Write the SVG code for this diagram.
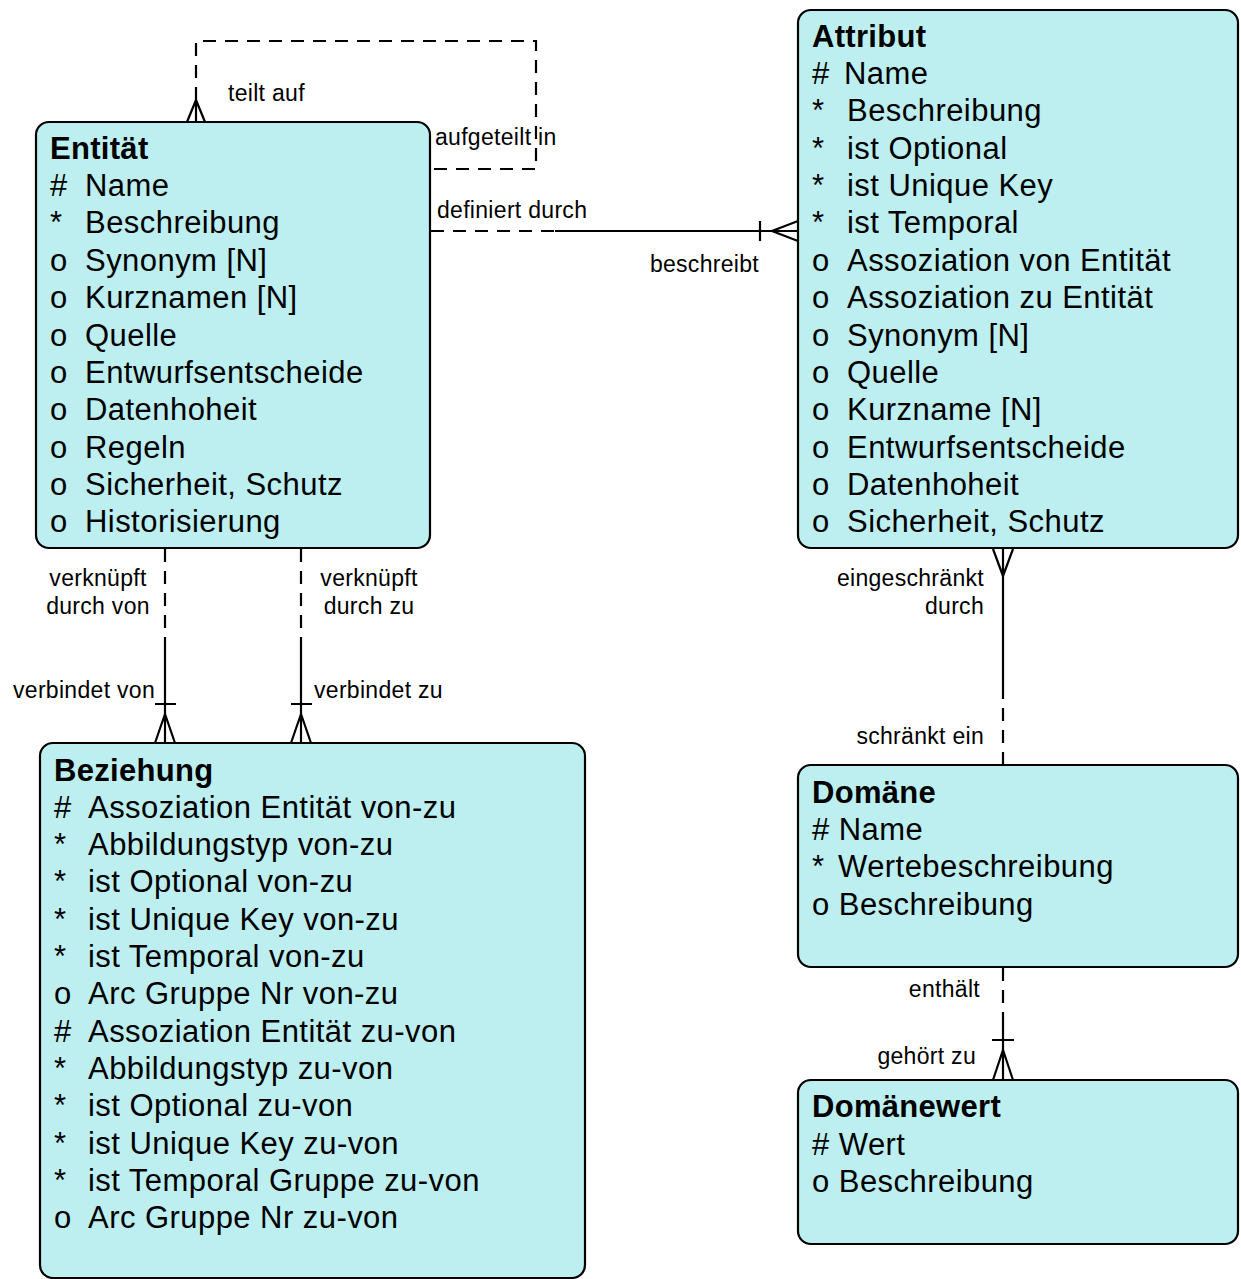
<svg xmlns="http://www.w3.org/2000/svg" width="1241" height="1279" viewBox="0 0 1241 1279">
<style>
.box{fill:#bdeff0;stroke:#000;stroke-width:2.2}
.t{font-family:"Liberation Sans",Arial,sans-serif;font-size:31px;fill:#000;letter-spacing:0.45px}
.h{font-weight:bold;letter-spacing:0.3px}
.l{font-family:"Liberation Sans",Arial,sans-serif;font-size:23px;fill:#000;letter-spacing:0.3px}
.r{text-anchor:end}
.m{text-anchor:middle}
.s{fill:none;stroke:#000;stroke-width:2.2}
.d{fill:none;stroke:#000;stroke-width:2.2;stroke-dasharray:13 9}
</style>
<rect width="1241" height="1279" fill="#fff"/>
<g id="connectors">
  <!-- self loop -->
  <path class="d" d="M196,100 V41 H536 V169 H431"/>
  <path class="s" d="M196,100 V122 M187,122 L196,100 L205,122"/>
  <text class="l" x="228" y="101">teilt auf</text>
  <text class="l" x="435" y="145">aufgeteilt in</text>
  <!-- Entitaet - Attribut -->
  <path class="d" d="M431,231 H555"/>
  <path class="s" d="M555,231 H798 M760,221 V241 M798,221 L772,231 L798,241"/>
  <text class="l" x="437" y="218">definiert durch</text>
  <text class="l r" x="759" y="272">beschreibt</text>
  <!-- Entitaet - Beziehung von -->
  <path class="d" d="M165,549 V650"/>
  <path class="s" d="M165,650 V743 M155,704 H176 M155,743 L165,714 L175,743"/>
  <text class="l m" x="98" y="586">verknüpft</text>
  <text class="l m" x="98" y="614">durch von</text>
  <text class="l r" x="155" y="698">verbindet von</text>
  <!-- Entitaet - Beziehung zu -->
  <path class="d" d="M301,549 V650"/>
  <path class="s" d="M301,650 V743 M291,704 H312 M291,743 L301,714 L311,743"/>
  <text class="l m" x="369" y="586">verknüpft</text>
  <text class="l m" x="369" y="614">durch zu</text>
  <text class="l" x="314" y="698">verbindet zu</text>
  <!-- Attribut - Domaene -->
  <path class="s" d="M1003,549 V686 M993,549 L1003,576 L1013,549"/>
  <path class="d" d="M1003,686 V765"/>
  <text class="l r" x="984" y="586">eingeschränkt</text>
  <text class="l r" x="984" y="614">durch</text>
  <text class="l r" x="984" y="744">schränkt ein</text>
  <!-- Domaene - Domaenewert -->
  <path class="d" d="M1003,968 V1022"/>
  <path class="s" d="M1003,1022 V1080 M992,1040 H1014 M993,1080 L1003,1050 L1013,1080"/>
  <text class="l r" x="980" y="997">enthält</text>
  <text class="l r" x="976" y="1064">gehört zu</text>
</g>
<g id="entitaet">
  <rect class="box" x="36" y="122" width="394" height="426" rx="13"/>
  <text class="t h" x="50" y="159">Entität</text>
  <text class="t" x="50" y="196">#</text><text class="t" x="85" y="196">Name</text>
  <text class="t" x="50" y="233">*</text><text class="t" x="85" y="233">Beschreibung</text>
  <text class="t" x="50" y="271">o</text><text class="t" x="85" y="271">Synonym [N]</text>
  <text class="t" x="50" y="308">o</text><text class="t" x="85" y="308">Kurznamen [N]</text>
  <text class="t" x="50" y="346">o</text><text class="t" x="85" y="346">Quelle</text>
  <text class="t" x="50" y="383">o</text><text class="t" x="85" y="383">Entwurfsentscheide</text>
  <text class="t" x="50" y="420">o</text><text class="t" x="85" y="420">Datenhoheit</text>
  <text class="t" x="50" y="458">o</text><text class="t" x="85" y="458">Regeln</text>
  <text class="t" x="50" y="495">o</text><text class="t" x="85" y="495">Sicherheit, Schutz</text>
  <text class="t" x="50" y="532">o</text><text class="t" x="85" y="532">Historisierung</text>
</g>
<g id="attribut">
  <rect class="box" x="798" y="10" width="440" height="538" rx="13"/>
  <text class="t h" x="812" y="47">Attribut</text>
  <text class="t" x="812" y="84">#</text><text class="t" x="844" y="84">Name</text>
  <text class="t" x="812" y="121">*</text><text class="t" x="847" y="121">Beschreibung</text>
  <text class="t" x="812" y="159">*</text><text class="t" x="847" y="159">ist Optional</text>
  <text class="t" x="812" y="196">*</text><text class="t" x="847" y="196">ist Unique Key</text>
  <text class="t" x="812" y="233">*</text><text class="t" x="847" y="233">ist Temporal</text>
  <text class="t" x="812" y="271">o</text><text class="t" x="847" y="271">Assoziation von Entität</text>
  <text class="t" x="812" y="308">o</text><text class="t" x="847" y="308">Assoziation zu Entität</text>
  <text class="t" x="812" y="346">o</text><text class="t" x="847" y="346">Synonym [N]</text>
  <text class="t" x="812" y="383">o</text><text class="t" x="847" y="383">Quelle</text>
  <text class="t" x="812" y="420">o</text><text class="t" x="847" y="420">Kurzname [N]</text>
  <text class="t" x="812" y="458">o</text><text class="t" x="847" y="458">Entwurfsentscheide</text>
  <text class="t" x="812" y="495">o</text><text class="t" x="847" y="495">Datenhoheit</text>
  <text class="t" x="812" y="532">o</text><text class="t" x="847" y="532">Sicherheit, Schutz</text>
</g>
<g id="beziehung">
  <rect class="box" x="40" y="743" width="545" height="535" rx="13"/>
  <text class="t h" x="54" y="781">Beziehung</text>
  <text class="t" x="54" y="818">#</text><text class="t" x="88" y="818">Assoziation Entität von-zu</text>
  <text class="t" x="54" y="855">*</text><text class="t" x="88" y="855">Abbildungstyp von-zu</text>
  <text class="t" x="54" y="892">*</text><text class="t" x="88" y="892">ist Optional von-zu</text>
  <text class="t" x="54" y="930">*</text><text class="t" x="88" y="930">ist Unique Key von-zu</text>
  <text class="t" x="54" y="967">*</text><text class="t" x="88" y="967">ist Temporal von-zu</text>
  <text class="t" x="54" y="1004">o</text><text class="t" x="88" y="1004">Arc Gruppe Nr von-zu</text>
  <text class="t" x="54" y="1042">#</text><text class="t" x="88" y="1042">Assoziation Entität zu-von</text>
  <text class="t" x="54" y="1079">*</text><text class="t" x="88" y="1079">Abbildungstyp zu-von</text>
  <text class="t" x="54" y="1116">*</text><text class="t" x="88" y="1116">ist Optional zu-von</text>
  <text class="t" x="54" y="1154">*</text><text class="t" x="88" y="1154">ist Unique Key zu-von</text>
  <text class="t" x="54" y="1191">*</text><text class="t" x="88" y="1191">ist Temporal Gruppe zu-von</text>
  <text class="t" x="54" y="1228">o</text><text class="t" x="88" y="1228">Arc Gruppe Nr zu-von</text>
</g>
<g id="domaene">
  <rect class="box" x="798" y="765" width="440" height="202" rx="13"/>
  <text class="t h" x="812" y="803">Domäne</text>
  <text class="t" x="812" y="840"># Name</text>
  <text class="t" x="812" y="877">*</text><text class="t" x="838" y="877">Wertebeschreibung</text>
  <text class="t" x="812" y="915">o Beschreibung</text>
</g>
<g id="domaenewert">
  <rect class="box" x="798" y="1080" width="440" height="164" rx="13"/>
  <text class="t h" x="812" y="1117">Domänewert</text>
  <text class="t" x="812" y="1155"># Wert</text>
  <text class="t" x="812" y="1192">o Beschreibung</text>
</g>
</svg>
